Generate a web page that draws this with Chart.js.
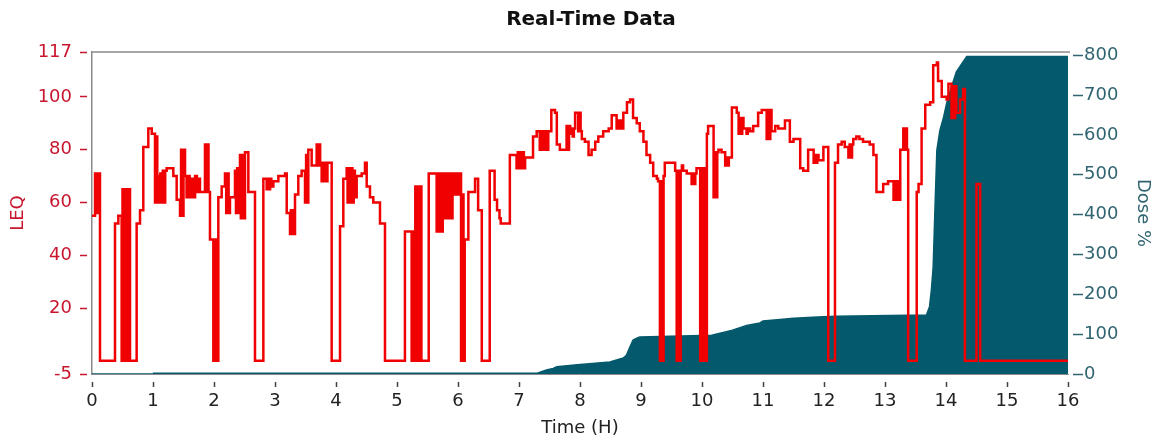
<!DOCTYPE html>
<html>
<head>
<meta charset="utf-8">
<title>Real-Time Data</title>
<script src="https://cdn.jsdelivr.net/npm/chart.js@4.4.1/dist/chart.umd.min.js"></script>
<style>
    html, body { margin: 0; padding: 0; background: #fff; }
    #wrap { width: 1157px; height: 447px; }
</style>
</head>
<body>
<div id="wrap"><canvas id="realTimeChart"></canvas></div>
<script>
// LEQ readings (stepped), hour where each level starts
const leqHours = [
    0, 0.05, 0.07, 0.09, 0.11, 0.12, 0.131, 0.377, 0.432, 0.486, 0.50, 0.52, 0.54, 0.56, 0.58, 0.60, 0.61,
    0.623, 0.732, 0.787, 0.841, 0.923, 0.98, 1.033, 1.05, 1.07, 1.087, 1.10, 1.12, 1.14, 1.16, 1.18, 1.20, 1.224, 1.333, 1.388,
    1.443, 1.46, 1.48, 1.50, 1.525, 1.55, 1.579, 1.60, 1.63, 1.66, 1.69, 1.72, 1.75, 1.77, 1.852, 1.87, 1.89, 1.91, 1.934, 1.989, 2.01, 2.03,
    2.071, 2.126, 2.18, 2.20, 2.22, 2.24, 2.262, 2.344, 2.36, 2.38, 2.40, 2.426, 2.44, 2.46, 2.48, 2.508, 2.563, 2.672, 2.809,
    2.863, 2.88, 2.90, 2.92, 2.94, 2.973, 3.055, 3.164, 3.192, 3.246, 3.26, 3.28, 3.30, 3.31, 3.328, 3.382, 3.437, 3.492, 3.51, 3.53, 3.546, 3.601,
    3.683, 3.70, 3.72, 3.74, 3.765, 3.78, 3.80, 3.82, 3.84, 3.86, 3.874, 3.929, 4.066, 4.12, 4.175, 4.19, 4.21, 4.23, 4.25, 4.27, 4.29, 4.31,
    4.339, 4.421, 4.475, 4.503, 4.557, 4.611, 4.721, 4.803, 5.13, 5.24, 5.26, 5.28, 5.30, 5.32, 5.34, 5.36, 5.38, 5.40,
    5.52, 5.65, 5.67, 5.69, 5.71, 5.73, 5.75, 5.77, 5.79, 5.81, 5.83, 5.85, 5.87, 5.89, 5.91, 5.93, 5.95, 5.97, 5.99, 6.01, 6.03,
    6.05, 6.07, 6.09, 6.11, 6.17, 6.28, 6.33, 6.39, 6.52, 6.60, 6.64, 6.68, 6.70, 6.85, 6.96, 6.98, 7.00, 7.02, 7.04, 7.06, 7.08, 7.10,
    7.15, 7.23, 7.29, 7.34, 7.36, 7.38, 7.40, 7.42, 7.44, 7.46, 7.48, 7.53, 7.59, 7.62, 7.67, 7.78, 7.80, 7.82, 7.84, 7.86, 7.88, 7.90, 7.92, 7.97, 7.99, 8.01,
    8.03, 8.08, 8.14, 8.19, 8.25, 8.30, 8.38, 8.47, 8.52, 8.60, 8.62, 8.64, 8.66, 8.68, 8.71, 8.77, 8.82, 8.87, 8.93, 8.98, 9.04, 9.09, 9.15, 9.20, 9.26, 9.28,
    9.31, 9.33, 9.35, 9.37, 9.39, 9.45, 9.56, 9.585, 9.61, 9.63, 9.65, 9.67, 9.69, 9.75, 9.83, 9.85, 9.87, 9.89, 9.91, 9.97, 9.99, 10.01, 10.03, 10.05, 10.08, 10.10, 10.19, 10.21, 10.23, 10.25, 10.27,
    10.32, 10.38, 10.40, 10.42, 10.44, 10.46, 10.49, 10.57, 10.60, 10.62, 10.64, 10.66, 10.68, 10.73, 10.75, 10.79, 10.84, 10.92, 10.98, 11.06, 11.08, 11.10, 11.12, 11.14,
    11.20, 11.25, 11.36, 11.44, 11.50, 11.61, 11.66, 11.74, 11.83, 11.85, 11.87, 11.89, 11.91, 11.99, 12.07, 12.18, 12.23, 12.29, 12.34, 12.40, 12.42, 12.44, 12.46, 12.48,
    12.53, 12.58, 12.64, 12.75, 12.81, 12.86, 12.97, 13.05, 13.14, 13.16, 13.18, 13.20, 13.22, 13.25, 13.30, 13.32, 13.34, 13.36, 13.38, 13.52, 13.55,
    13.60, 13.66, 13.74, 13.79, 13.85, 13.87, 13.93, 14.01, 14.04, 14.09, 14.11, 14.13, 14.15, 14.17, 14.23, 14.28, 14.31, 14.50, 14.56, 16
];
const leqValues = [
    55, 71, 56, 71, 58, 71, 0, 52, 55, 0, 65, 0, 65, 0, 65, 0, 65,
    0, 52, 57, 81, 88, 86, 60, 85, 60, 70, 60, 71, 60, 72, 60, 72, 73, 70, 61,
    55, 80, 55, 80, 70, 62, 70, 62, 69, 62, 70, 64, 69, 64, 82, 64, 82, 64, 46, 0, 46, 0,
    62, 66, 71, 56, 71, 56, 62, 72, 56, 73, 56, 78, 54, 78, 54, 79, 64, 0, 69,
    65, 69, 65, 69, 66, 68, 70, 71, 56, 48, 57, 48, 57, 48, 63, 70, 72, 60, 78, 60, 80, 74,
    82, 74, 82, 74, 68, 75, 68, 75, 68, 75, 75, 0, 51, 69, 73, 60, 73, 60, 73, 60, 72, 62,
    70, 71, 75, 66, 62, 60, 52, 0, 49, 0, 49, 0, 66, 0, 66, 0, 66, 0,
    71, 49, 71, 49, 71, 49, 71, 54, 71, 54, 71, 54, 71, 54, 71, 63, 71, 63, 71, 63, 71,
    0, 63, 0, 46, 64, 69, 57, 0, 72, 61, 57, 54, 52, 78, 73, 79, 73, 79, 73, 79, 73, 77,
    77, 85, 87, 80, 87, 80, 87, 80, 87, 80, 87, 95, 94, 82, 80, 89, 80, 89, 86, 88, 85, 88, 94, 87, 94, 87,
    84, 83, 78, 80, 83, 85, 87, 88, 93, 88, 91, 88, 91, 88, 94, 98, 99, 92, 90, 87, 83, 78, 75, 70, 69, 68,
    0, 68, 0, 70, 75, 75, 72, 0, 72, 0, 72, 74, 72, 71, 67, 71, 67, 71, 73, 0, 73, 0, 73, 0, 86, 89, 62, 79, 62, 79, 80,
    79, 74, 77, 74, 77, 77, 96, 94, 86, 92, 86, 92, 88, 86, 88, 87, 89, 94, 95, 84, 95, 84, 95, 87,
    89, 88, 91, 83, 84, 73, 72, 80, 75, 78, 75, 78, 76, 81, 0, 75, 82, 83, 81, 77, 82, 77, 82, 84,
    85, 84, 83, 82, 78, 64, 67, 68, 61, 68, 61, 68, 61, 80, 88, 80, 88, 80, 0, 64, 67,
    88, 97, 98, 112, 113, 106, 100, 99, 105, 92, 104, 92, 104, 94, 99, 103, 0, 67, 0, 0
];

// Accumulated dose %
const doseHours = [0, 1.0, 1.01, 7.3, 7.45, 7.56, 7.62, 8.0, 8.25, 8.49, 8.71, 8.76, 8.82, 8.87, 8.93, 8.98,
    10.16, 10.5, 10.73, 10.95, 11.0, 11.28, 11.5, 11.9, 12.2,
    13.68, 13.73, 13.76, 13.79, 13.82, 13.85, 13.90, 13.96, 14.01, 14.09, 14.17, 14.26, 14.34, 16];
const doseValues = [0, 0, 2, 2, 10, 14, 18, 24, 27, 30, 40, 47, 68, 85, 90, 93,
    97, 110, 122, 128, 133, 137, 140, 143, 145,
    148, 169, 210, 269, 419, 561, 611, 644, 679, 720, 758, 779, 797, 797];

const leqTicks = [-5, 20, 40, 60, 80, 100, 117];
const doseTicks = [0, 100, 200, 300, 400, 500, 600, 700, 800];

const RED = '#f00000';
const LEQ_TEXT = '#c8162e';
const TEAL = '#045a6c';
const DOSE_TEXT = '#2f6470';

Chart.defaults.font.family = "'DejaVu Sans', Verdana, sans-serif";
Chart.defaults.font.size = 18;

// gray frame line along the top of the plot
const frameTop = {
    id: 'frameTop',
    beforeDatasetsDraw(chart) {
        const { ctx, chartArea } = chart;
        ctx.save();
        ctx.strokeStyle = '#8a8a8a';
        ctx.lineWidth = 1.5;
        ctx.beginPath();
        ctx.moveTo(chartArea.left, chartArea.top);
        ctx.lineTo(chartArea.right + 2, chartArea.top);
        ctx.stroke();
        ctx.restore();
    }
};

// nudge the title a bit to the right, like the original
const titleShift = {
    id: 'titleShift',
    afterLayout(chart) {
        if (chart.titleBlock) chart.titleBlock.left += 25;
    }
};

const ctx = document.getElementById('realTimeChart').getContext('2d');
new Chart(ctx, {
    type: 'line',
    data: {
        datasets: [{
            label: 'LEQ',
            data: leqHours.map((h, i) => ({ x: h, y: leqValues[i] })),
            yAxisID: 'y',
            borderColor: RED,
            borderWidth: 2.5,
            stepped: true,
            pointRadius: 0,
            fill: false
        }, {
            label: 'Dose %',
            data: doseHours.map((h, i) => ({ x: h, y: doseValues[i] })),
            yAxisID: 'yDose',
            borderColor: TEAL,
            backgroundColor: TEAL,
            borderWidth: 1.5,
            pointRadius: 0,
            fill: 'origin'
        }]
    },
    options: {
        responsive: true,
        maintainAspectRatio: false,
        animation: false,
        layout: { padding: 0 },
        plugins: {
            legend: { display: false },
            tooltip: { enabled: false },
            title: {
                display: true,
                text: 'Real-Time Data',
                color: '#111',
                font: { size: 20, weight: 'bold' },
                padding: { top: 8, bottom: 20 }
            }
        },
        scales: {
            x: {
                type: 'linear',
                position: 'bottom',
                min: 0,
                max: 16,
                afterFit: s => { s.height = 73; },
                ticks: { stepSize: 1, color: '#222', padding: 4 },
                grid: {
                    drawOnChartArea: false,
                    tickLength: 13,
                    tickColor: '#444',
                    tickWidth: 1.5,
                    tickBorderDash: [0, 7, 6, 100]
                },
                border: { color: '#8a8a8a' },
                title: { display: true, text: 'Time (H)', color: '#222', padding: { top: 0, bottom: 8 } }
            },
            y: {
                position: 'left',
                min: -5,
                max: 117,
                afterFit: s => { s.width = 92; },
                afterBuildTicks: s => { s.ticks = leqTicks.map(v => ({ value: v })); },
                ticks: { color: LEQ_TEXT, padding: 8 },
                grid: {
                    drawOnChartArea: false,
                    tickLength: 12,
                    tickColor: LEQ_TEXT,
                    tickWidth: 1.5,
                    tickBorderDash: [7, 5]
                },
                border: { color: '#8a8a8a', width: 1.5 },
                title: { display: true, text: 'LEQ', color: LEQ_TEXT, padding: { top: 8, bottom: 0 } }
            },
            yDose: {
                position: 'right',
                min: 0,
                max: 808,
                afterFit: s => { s.width = 89; },
                afterBuildTicks: s => { s.ticks = doseTicks.map(v => ({ value: v })); },
                ticks: { color: DOSE_TEXT, padding: 1 },
                grid: {
                    drawOnChartArea: false,
                    tickLength: 15,
                    tickColor: DOSE_TEXT,
                    tickWidth: 1.5,
                    tickBorderDash: [0, 5, 10, 100]
                },
                border: { display: false },
                title: { display: true, text: 'Dose %', color: DOSE_TEXT, padding: { top: 4, bottom: 0 } }
            }
        }
    },
    plugins: [frameTop, titleShift]
});
</script>
</body>
</html>
